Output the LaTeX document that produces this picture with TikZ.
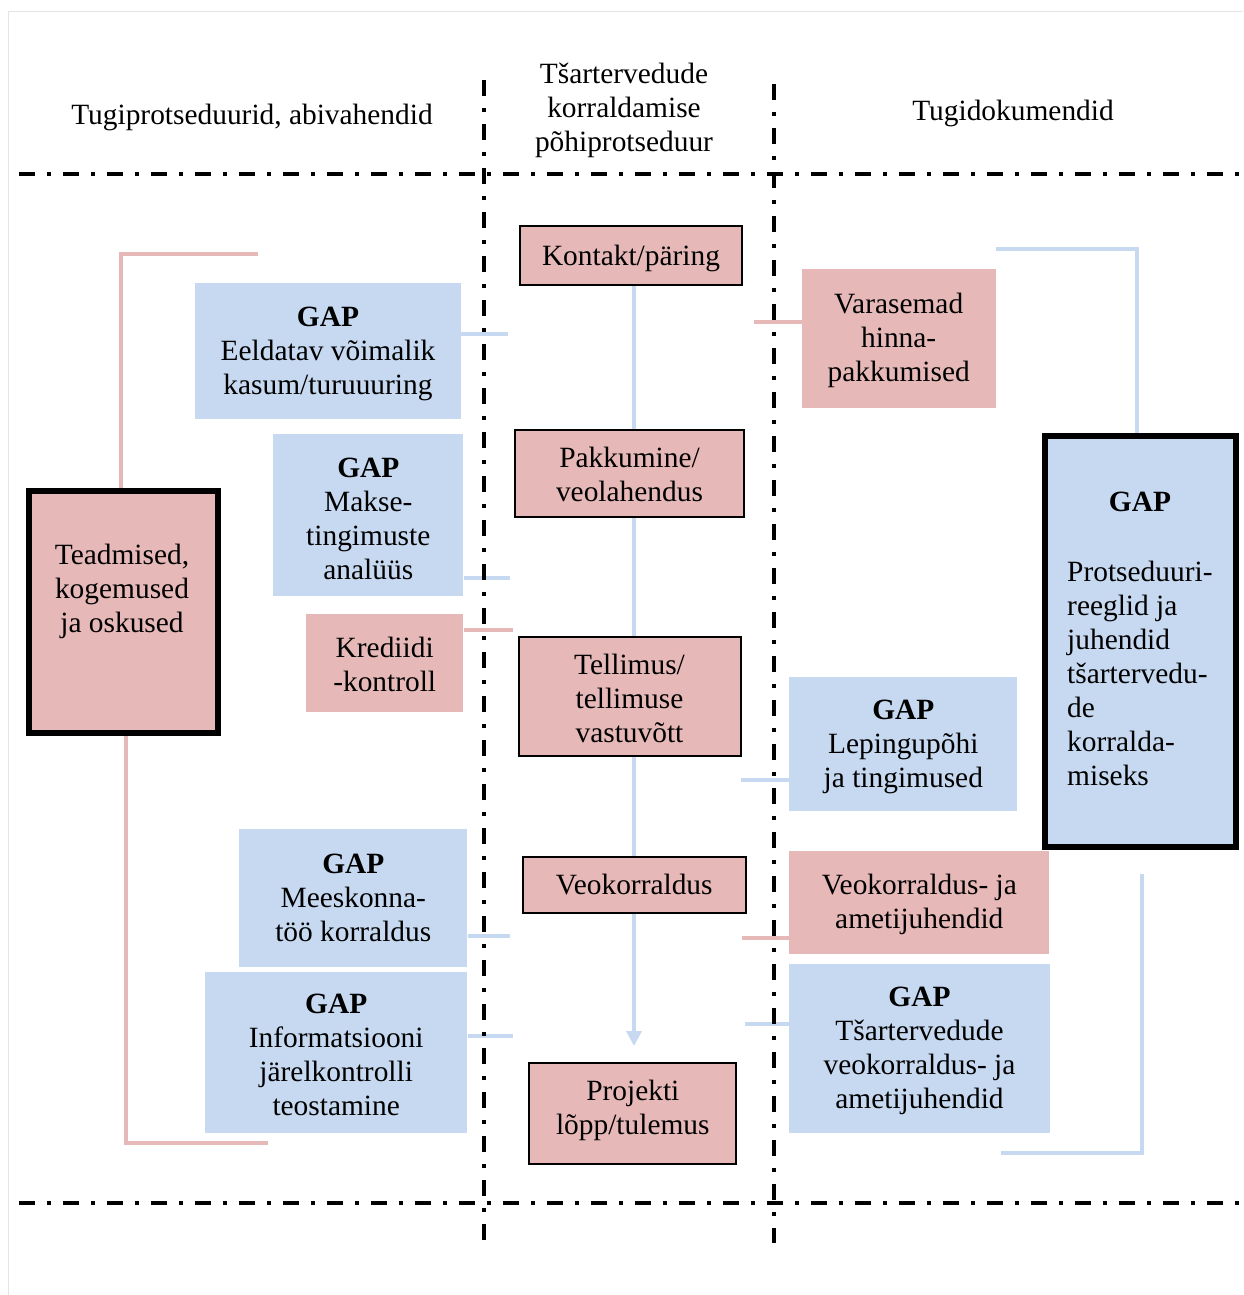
\documentclass[tikz,border=0pt]{standalone}
\usepackage{fontspec}
\setmainfont{Liberation Serif}
\usetikzlibrary{arrows.meta,backgrounds}
\definecolor{rosefill}{HTML}{E6B9B8}
\definecolor{skyfill}{HTML}{C6D9F1}
\definecolor{framegray}{HTML}{E4E4E4}
\tikzset{
  txt/.style={inner sep=0pt, align=center, font=\fontsize{29.4}{34}\selectfont},
  box/.style={rectangle, inner sep=0pt},
  corebox/.style={box, fill=rosefill, draw=black, line width=2pt},
  rosebox/.style={box, fill=rosefill},
  skybox/.style={box, fill=skyfill},
  heavybox/.style={box, draw=black, line width=6pt},
  rosewire/.style={draw=rosefill, line width=4pt},
  skywire/.style={draw=skyfill, line width=4pt},
  divider/.style={draw=black, line width=4pt, dash pattern=on 16pt off 12pt on 4pt off 12pt}
}
\begin{document}
\begin{tikzpicture}[x=1pt, y=-1pt]
\useasboundingbox (0,0) rectangle (1243,1295);
% page frame
\draw[framegray, line width=1pt] (8.3,1295) -- (8.3,11.7) -- (1243,11.7);

% column headings
\node[txt] (hleft) at (252,117) {Tugiprotseduurid, abivahendid};
\node[txt] (hmid) at (624,110) {Tšartervedude\\korraldamise\\põhiprotseduur};
\node[txt] (hright) at (1013,113) {Tugidokumendid};

% main process chain
\node[corebox, minimum width=222, minimum height=59] (kontakt) at (631,255.5) {};
\node[txt] (kontaktT) at (631,258.5) {Kontakt/päring};
\node[corebox, minimum width=229, minimum height=86.5] (pakkumine) at (629.5,473.3) {};
\node[txt] (pakkumineT) at (629.5,474.8) {Pakkumine/\\veolahendus};
\node[corebox, minimum width=222, minimum height=119] (tellimus) at (629.5,696) {};
\node[txt] (tellimusT) at (629.5,698) {Tellimus/\\tellimuse\\vastuvõtt};
\node[corebox, minimum width=223, minimum height=56.3] (veokorraldus) at (634.2,885.2) {};
\node[txt] (veokorraldusT) at (634.2,884.7) {Veokorraldus};
\node[corebox, minimum width=207, minimum height=100.7] (projekti) at (632.8,1113.7) {};
\node[txt] (projektiT) at (632.8,1110) {Projekti\\lõpp/tulemus};

% supporting procedures (left)
\node[heavybox, fill=rosefill, minimum width=189, minimum height=241.4] (teadmised) at (123.2,612) {};
\node[txt] (teadmisedT) at (122,591) {Teadmised,\\kogemused\\ja oskused};
\node[skybox, minimum width=266, minimum height=136] (eeldatav) at (328,351.3) {};
\node[txt] (eeldatavT) at (328,354) {\textbf{GAP}\\Eeldatav võimalik\\kasum/turuuuring};
\node[skybox, minimum width=190, minimum height=161.7] (makse) at (368.3,515.2) {};
\node[txt] (makseT) at (368.3,518.7) {\textbf{GAP}\\Makse-\\tingimuste\\analüüs};
\node[rosebox, minimum width=157.3, minimum height=98] (krediidi) at (384.7,663.3) {};
\node[txt] (krediidiT) at (384.7,664.5) {Krediidi\\-kontroll};
\node[skybox, minimum width=228, minimum height=138] (meeskonna) at (353.3,898.3) {};
\node[txt] (meeskonnaT) at (353.3,897.8) {\textbf{GAP}\\Meeskonna-\\töö korraldus};
\node[skybox, minimum width=262.3, minimum height=161.6] (info) at (336.2,1052.5) {};
\node[txt] (infoT) at (336.2,1055) {\textbf{GAP}\\Informatsiooni\\järelkontrolli\\teostamine};

% supporting documents (right)
\node[rosebox, minimum width=194, minimum height=139.3] (varasemad) at (898.7,338.7) {};
\node[txt] (varasemadT) at (898.7,340) {Varasemad\\hinna-\\pakkumised};
\node[heavybox, fill=skyfill, minimum width=191.6, minimum height=411.3] (reeglid) at (1140.5,641.4) {};
\node[txt] (reeglidtitle) at (1140,502) {\textbf{GAP}};
\node[txt, align=left, anchor=west] (reeglidT) at (1067,673) {Protseduuri-\\reeglid ja\\juhendid\\tšartervedu-\\de\\korralda-\\miseks};
\node[skybox, minimum width=228, minimum height=134] (lepingu) at (903.3,743.7) {};
\node[txt] (lepinguT) at (903.3,747.2) {\textbf{GAP}\\Lepingupõhi\\ja tingimused};
\node[rosebox, minimum width=260, minimum height=103.6] (juhendid) at (919.3,902.5) {};
\node[txt] (juhendidT) at (919.3,904.5) {Veokorraldus- ja\\ametijuhendid};
\node[skybox, minimum width=260.4, minimum height=169.3] (tsarter) at (919.5,1048.7) {};
\node[txt] (tsarterT) at (919.5,1050.7) {\textbf{GAP}\\Tšartervedude\\veokorraldus- ja\\ametijuhendid};

% free ends of the connectors
\coordinate (flowtop) at (634,286);
\coordinate (flowtip) at (634,1046);
\coordinate (tk) at (120.5,254);
\coordinate (tk2) at (258,254);
\coordinate (tb) at (126,1142.5);
\coordinate (tb2) at (268,1142.5);
\coordinate (e1) at (508,334.3);
\coordinate (m1) at (510,577.7);
\coordinate (k1) at (512.5,630);
\coordinate (q1) at (510,935.7);
\coordinate (i1) at (513,1036);
\coordinate (v1) at (754,322.3);
\coordinate (rt1) at (996,249);
\coordinate (rt2) at (1136.5,249);
\coordinate (l1) at (741,780);
\coordinate (j1) at (742.3,938.3);
\coordinate (s1) at (745,1024);
\coordinate (rb1) at (1142.3,874.3);
\coordinate (rb2) at (1142.3,1153.3);
\coordinate (rb3) at (1000.7,1153.3);

\begin{scope}[on background layer]
  \draw[skywire, -{Triangle[width=15pt,length=15pt]}] (flowtop) -- (flowtip);
  \draw[rosewire] (teadmised.north -| tk) -- (tk) -- (tk2);
  \draw[rosewire] (teadmised.south -| tb) -- (tb) -- (tb2);
  \draw[skywire] (eeldatav.east |- e1) -- (e1);
  \draw[skywire] (makse.east |- m1) -- (m1);
  \draw[rosewire] (krediidi.east |- k1) -- (k1);
  \draw[skywire] (meeskonna.east |- q1) -- (q1);
  \draw[skywire] (info.east |- i1) -- (i1);
  \draw[rosewire] (v1) -- (varasemad.west |- v1);
  \draw[skywire] (rt1) -- (rt2) -- (reeglid.north -| rt2);
  \draw[skywire] (l1) -- (lepingu.west |- l1);
  \draw[rosewire] (j1) -- (juhendid.west |- j1);
  \draw[skywire] (s1) -- (tsarter.west |- s1);
  \draw[skywire] (rb1) -- (rb2) -- (rb3);
\end{scope}

% column dividers
\coordinate (hl) at (19,173.5);
\coordinate (hr) at (1243,173.5);
\coordinate (bl) at (19,1203.3);
\coordinate (br) at (1243,1203.3);
\coordinate (vl1) at (484,80);
\coordinate (vl2) at (484,1241);
\coordinate (vr1) at (774,84);
\coordinate (vr2) at (774,1243);
\draw[divider] (hl) -- (hr);
\draw[divider] (bl) -- (br);
\draw[divider] (vl1) -- (vl2);
\draw[divider] (vr1) -- (vr2);
\end{tikzpicture}
\end{document}
